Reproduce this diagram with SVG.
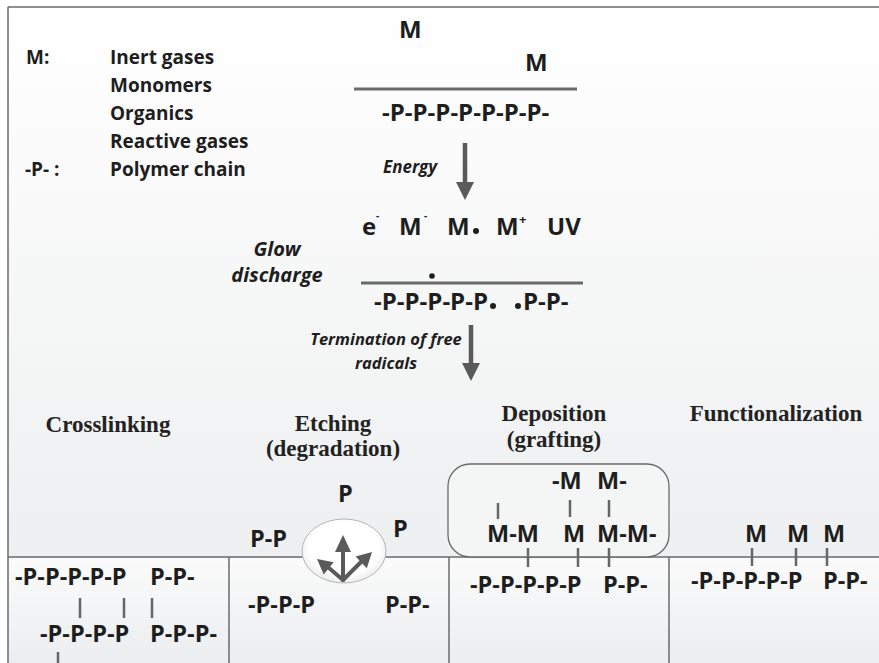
<svg xmlns="http://www.w3.org/2000/svg" width="879" height="663" viewBox="0 0 879 663">
  <defs>
    <linearGradient id="bgTop" x1="0" y1="0" x2="0" y2="1">
      <stop offset="0" stop-color="#ffffff"/>
      <stop offset="1" stop-color="#eeeff0"/>
    </linearGradient>
    <linearGradient id="bgBottom" x1="0" y1="0" x2="0" y2="1">
      <stop offset="0" stop-color="#fbfbfb"/>
      <stop offset="1" stop-color="#ebedef"/>
    </linearGradient>
    <radialGradient id="bubble" cx="0.5" cy="0.45" r="0.55">
      <stop offset="0.75" stop-color="#ffffff"/>
      <stop offset="1" stop-color="#ececec"/>
    </radialGradient>
    <style>
      .b { font-family: "Open Sans", "Noto Sans", sans-serif; font-weight: bold; fill: #1e1e1e; }
      .lg { font-size: 19px; }
      .ch { font-size: 23.5px; }
      .big { font-size: 24px; }
      .it { font-family: "Open Sans", "Noto Sans", sans-serif; font-weight: bold; font-style: italic; fill: #1e1e1e; text-anchor: middle; }
      .hd { font-family: "Liberation Serif", "Times New Roman", serif; font-weight: bold; font-size: 23px; fill: #222; text-anchor: middle; }
      .bond { stroke: #666; stroke-width: 2.5; fill: none; }
      .rule { stroke: #6b6b6b; stroke-width: 3; fill: none; }
      .frame { stroke: #6a6a6a; stroke-width: 1.5; fill: none; }
      .arrow { stroke: #5a5a5a; stroke-width: 4.5; fill: none; }
      .head { fill: #5a5a5a; }
      .dot { fill: #1e1e1e; }
    </style>
  </defs>

  <!-- background panels -->
  <rect x="0" y="0" width="879" height="663" fill="#ffffff"/>
  <rect x="8" y="7" width="871" height="550" fill="url(#bgTop)"/>
  <rect x="8" y="557" width="871" height="106" fill="url(#bgBottom)"/>

  <!-- frame and surface lines -->
  <g id="frame">
    <line class="frame" x1="8" y1="7" x2="879" y2="7"/>
    <line class="frame" x1="8" y1="7" x2="8" y2="663"/>
    <line class="frame" x1="8" y1="557" x2="879" y2="557"/>
    <line class="frame" x1="229" y1="557" x2="229" y2="663"/>
    <line class="frame" x1="449" y1="557" x2="449" y2="663"/>
    <line class="frame" x1="669" y1="557" x2="669" y2="663"/>
  </g>

  <!-- legend -->
  <g id="legend">
    <text class="b lg" x="26" y="64">M:</text>
    <text class="b lg" x="110" y="64">Inert gases</text>
    <text class="b lg" x="110" y="92">Monomers</text>
    <text class="b lg" x="110" y="120">Organics</text>
    <text class="b lg" x="110" y="148">Reactive gases</text>
    <text class="b lg" x="25" y="176">-P- :</text>
    <text class="b lg" x="110" y="176">Polymer chain</text>
  </g>

  <!-- polymer exposed to gas -->
  <g id="polymer-in-gas">
    <text class="b big" x="399" y="38">M</text>
    <text class="b big" x="525" y="71">M</text>
    <line class="rule" x1="354" y1="89" x2="577" y2="89"/>
    <text class="b big" x="382" y="121">-P-P-P-P-P-P-P-</text>
  </g>

  <!-- glow discharge species and radicals -->
  <g id="glow-discharge">
    <text class="it" x="277" y="256" font-size="20">Glow</text>
    <text class="it" x="277" y="282" font-size="20">discharge</text>
    <text class="b big" x="362" y="235">e</text>
    <text class="b" x="376" y="219" font-size="10">-</text>
    <text class="b big" x="399" y="235">M</text>
    <text class="b" x="424" y="219" font-size="10">-</text>
    <text class="b big" x="447" y="235">M</text>
    <circle class="dot" cx="476" cy="231" r="3"/>
    <text class="b big" x="496" y="235">M</text>
    <text class="b" x="519" y="224" font-size="13">+</text>
    <text class="b big" x="547" y="235">UV</text>
    <circle class="dot" cx="432" cy="276" r="2.8"/>
    <line class="rule" x1="361" y1="283" x2="583" y2="283"/>
    <text class="b big" x="374" y="310">-P-P-P-P-P</text>
    <circle class="dot" cx="493" cy="306" r="3"/>
    <circle class="dot" cx="518" cy="306" r="3"/>
    <text class="b big" x="523" y="310">P-P-</text>
  </g>

  <!-- process arrows -->
  <g id="connectors">
    <line class="arrow" x1="465" y1="143" x2="465" y2="184"/>
    <polygon class="head" points="456,182 474,182 465,200"/>
    <text class="it" x="410" y="173" font-size="17">Energy</text>
    <line class="arrow" x1="471" y1="325" x2="471" y2="365"/>
    <polygon class="head" points="462,363 480,363 471,381"/>
    <text class="it" x="386" y="345" font-size="16.5">Termination of free</text>
    <text class="it" x="386" y="369" font-size="16.5">radicals</text>
  </g>

  <!-- crosslinking -->
  <g id="crosslinking">
    <text class="hd" x="108" y="432">Crosslinking</text>
    <text class="b ch" x="15" y="585">-P-P-P-P-P</text>
    <text class="b ch" x="150" y="585">P-P-</text>
    <line class="bond" x1="80" y1="598" x2="80" y2="618"/>
    <line class="bond" x1="124" y1="598" x2="124" y2="618"/>
    <line class="bond" x1="152" y1="598" x2="152" y2="618"/>
    <text class="b ch" x="40" y="642">-P-P-P-P</text>
    <text class="b ch" x="150" y="642">P-P-P-</text>
    <line class="bond" x1="58" y1="652" x2="58" y2="663"/>
  </g>

  <!-- etching -->
  <g id="etching">
    <text class="hd" x="333" y="431">Etching</text>
    <text class="hd" x="333" y="456">(degradation)</text>
    <text class="b ch" x="338" y="502">P</text>
    <text class="b ch" x="393" y="537">P</text>
    <text class="b ch" x="250" y="547">P-P</text>
    <ellipse cx="344" cy="551" rx="42" ry="32" fill="url(#bubble)" stroke="#b5b5b5" stroke-width="1"/>
    <!-- three scattering arrows from a common origin -->
    <g stroke="#5a5a5a" stroke-width="4" fill="none" stroke-linecap="round">
      <line x1="343" y1="580" x2="343" y2="551"/>
      <line x1="343" y1="580" x2="329" y2="568"/>
      <line x1="343" y1="580" x2="361" y2="562"/>
    </g>
    <polygon class="head" points="343,535 335,552 351,552"/>
    <polygon class="head" points="317,559 333.7,562.2 323.7,574.6"/>
    <polygon class="head" points="372,552 366.8,568.2 355.6,556.6"/>
    <text class="b ch" x="248" y="613">-P-P-P</text>
    <text class="b ch" x="385" y="613">P-P-</text>
  </g>

  <!-- deposition -->
  <g id="deposition">
    <text class="hd" x="554" y="421">Deposition</text>
    <text class="hd" x="554" y="447">(grafting)</text>
    <rect x="448" y="464" width="221" height="93" rx="22" ry="22" fill="#f4f5f5" stroke="#6a6a6a" stroke-width="1.3"/>
    <text class="b ch" x="552" y="489">-M</text>
    <text class="b ch" x="597" y="489">M-</text>
    <line class="bond" x1="498" y1="503" x2="498" y2="519"/>
    <line class="bond" x1="570" y1="500" x2="570" y2="517"/>
    <line class="bond" x1="609" y1="500" x2="609" y2="517"/>
    <text class="b ch" x="487" y="542">M-M</text>
    <text class="b ch" x="563" y="542">M</text>
    <text class="b ch" x="597" y="542">M-M-</text>
    <line class="bond" x1="528" y1="548" x2="528" y2="567"/>
    <line class="bond" x1="578" y1="548" x2="578" y2="567"/>
    <line class="bond" x1="609" y1="548" x2="609" y2="567"/>
    <text class="b ch" x="470" y="593">-P-P-P-P-P</text>
    <text class="b ch" x="603" y="593">P-P-</text>
  </g>

  <!-- functionalization -->
  <g id="functionalization">
    <text class="hd" x="776" y="421">Functionalization</text>
    <text class="b ch" x="745" y="542">M</text>
    <text class="b ch" x="787" y="542">M</text>
    <text class="b ch" x="823" y="542">M</text>
    <line class="bond" x1="752" y1="548" x2="752" y2="566"/>
    <line class="bond" x1="796" y1="548" x2="796" y2="566"/>
    <line class="bond" x1="827" y1="548" x2="827" y2="566"/>
    <text class="b ch" x="691" y="589">-P-P-P-P-P</text>
    <text class="b ch" x="823" y="589">P-P-</text>
  </g>
</svg>
